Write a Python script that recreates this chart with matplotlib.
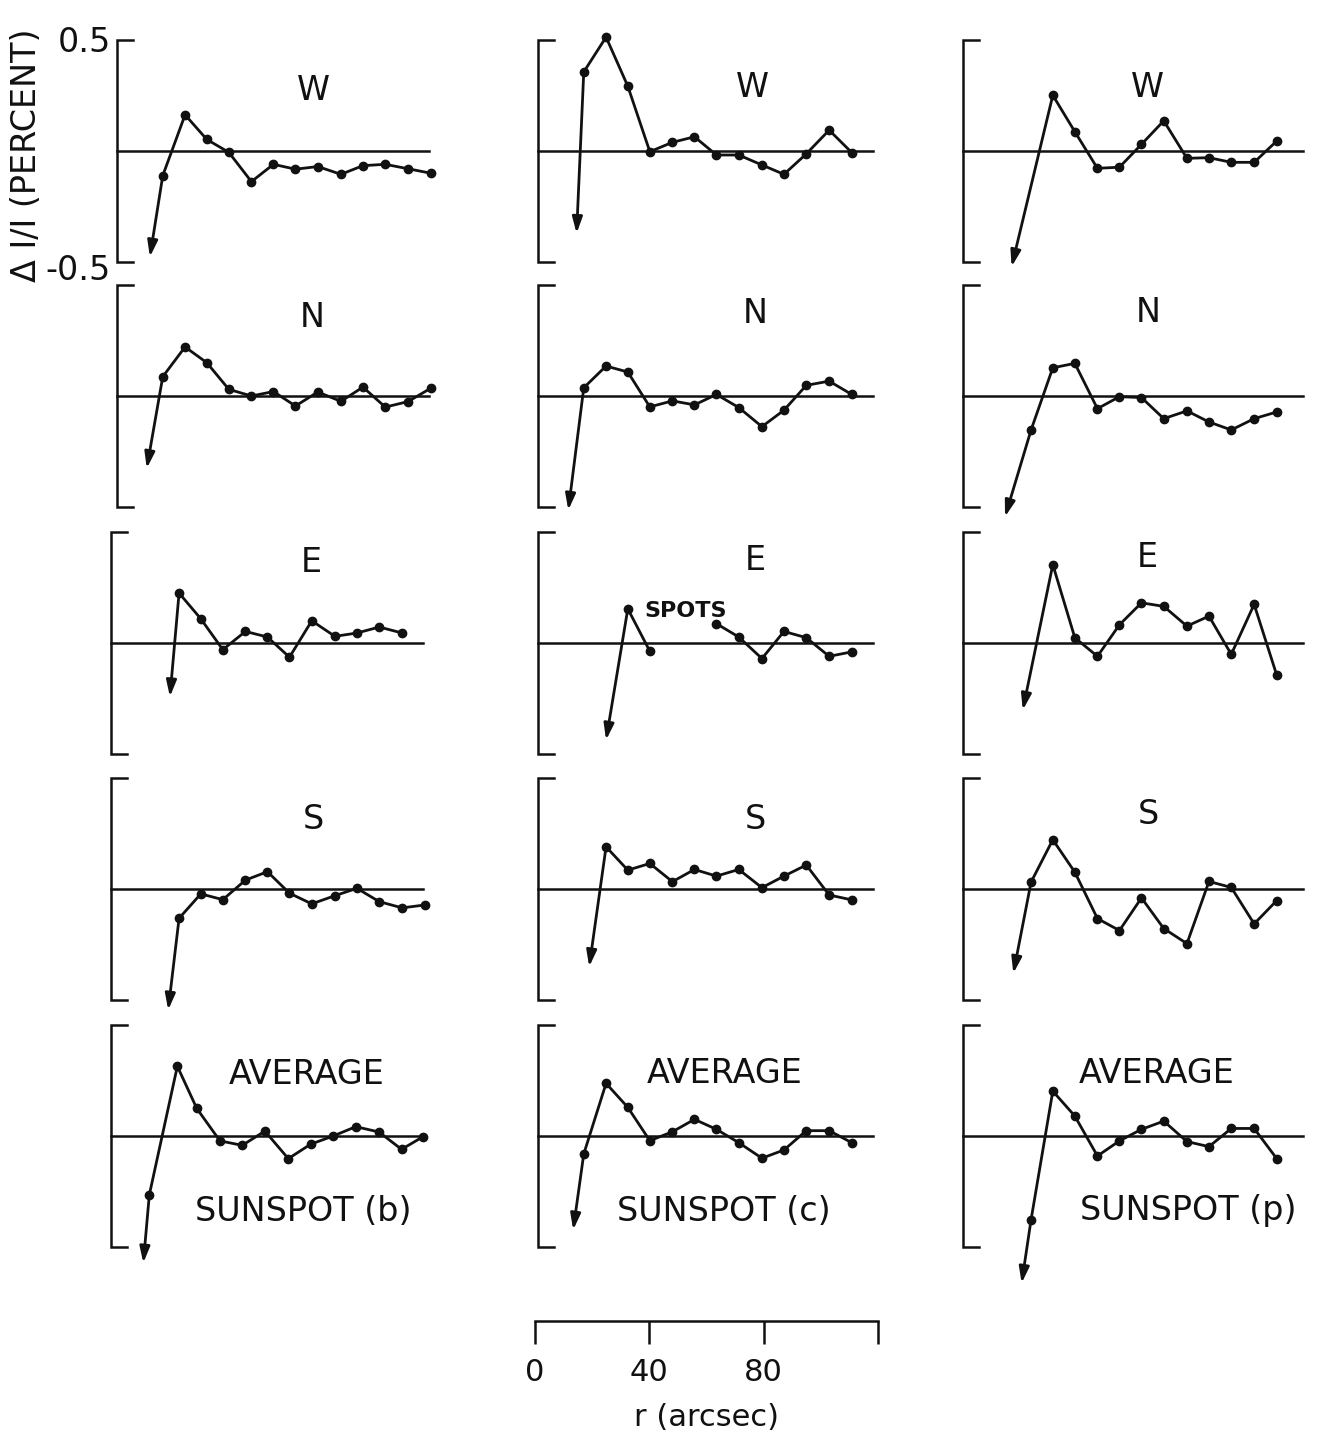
import numpy as np
import matplotlib
matplotlib.use("Agg")
import matplotlib.pyplot as plt

nan = np.nan

# ---------------- data (r in arcsec, dI/I in percent) ----------------
X_GRID = [16.0, 23.8, 31.4, 39.1, 47.0, 54.7, 62.4, 70.2, 78.3, 86.0, 93.8, 101.8, 109.7]
X_AVG_B = [13.4, 23.2, 30.0, 38.1, 45.9, 53.8, 62.0, 69.8, 77.7, 85.6, 93.7, 101.6, 109.0]

SUNSPOTS = ["b", "c", "p"]
PANEL_LABELS = ["W", "N", "E", "S", "AVERAGE"]

# sunspot (b)
W_B = [-0.111, 0.163, 0.052, -0.006, -0.138, -0.060, -0.082, -0.070, -0.105, -0.066, -0.060, -0.080, -0.100]
N_B = [0.087, 0.221, 0.150, 0.030, 0.000, 0.020, -0.045, 0.018, -0.024, 0.040, -0.050, -0.025, 0.035]
E_B = [nan, 0.225, 0.109, -0.030, 0.052, 0.027, -0.064, 0.100, 0.030, 0.045, 0.072, 0.045, nan]
S_B = [nan, -0.132, -0.022, -0.048, 0.040, 0.078, -0.019, -0.067, -0.030, 0.003, -0.057, -0.085, -0.072]
AVG_B = [-0.265, 0.314, 0.124, -0.022, -0.042, 0.022, -0.102, -0.037, 0.000, 0.042, 0.018, -0.060, -0.004]
ARROW_B_X = [11.5, 10.4, 20.6, 20.0, 11.3]
ARROW_B_Y = [-0.477, -0.326, -0.242, -0.545, -0.572]

# sunspot (c)
W_C = [0.356, 0.513, 0.292, -0.003, 0.039, 0.064, -0.018, -0.018, -0.063, -0.105, -0.013, 0.094, -0.007]
N_C = [0.037, 0.135, 0.108, -0.049, -0.022, -0.040, 0.007, -0.052, -0.138, -0.064, 0.048, 0.067, 0.007]
E_C = [nan, nan, 0.154, -0.037, nan, nan, 0.087, 0.027, -0.070, 0.052, 0.024, -0.060, -0.040]
S_C = [nan, 0.190, 0.085, 0.115, 0.033, 0.088, 0.058, 0.088, 0.006, 0.058, 0.108, -0.027, -0.049]
AVG_C = [-0.081, 0.237, 0.129, -0.021, 0.019, 0.075, 0.030, -0.030, -0.100, -0.063, 0.024, 0.024, -0.030]
ARROW_C_X = [13.5, 10.6, 23.8, 17.9, 12.3]
ARROW_C_Y = [-0.371, -0.514, -0.437, -0.350, -0.423]

# sunspot (p)
W_P = [nan, nan, 0.251, 0.087, -0.078, -0.073, 0.030, 0.136, -0.033, -0.030, -0.051, -0.051, 0.045]
N_P = [nan, -0.153, 0.127, 0.147, -0.057, -0.003, -0.007, -0.102, -0.067, -0.117, -0.153, -0.102, -0.072]
E_P = [nan, nan, 0.353, 0.024, -0.060, 0.082, 0.181, 0.165, 0.076, 0.121, -0.051, 0.174, -0.145]
S_P = [nan, 0.031, 0.222, 0.076, -0.133, -0.187, -0.040, -0.178, -0.246, 0.034, 0.007, -0.157, -0.052]
AVG_P = [nan, -0.377, 0.202, 0.090, -0.090, -0.022, 0.030, 0.067, -0.025, -0.048, 0.034, 0.034, -0.102]
ARROW_P_X = [17.0, 14.7, 20.9, 17.6, 20.5]
ARROW_P_Y = [-0.521, -0.544, -0.302, -0.380, -0.663]

SERIES = [
    [W_B, N_B, E_B, S_B, AVG_B],
    [W_C, N_C, E_C, S_C, AVG_C],
    [W_P, N_P, E_P, S_P, AVG_P],
]
XS = [
    [X_GRID, X_GRID, X_GRID, X_GRID, X_AVG_B],
    [X_GRID] * 5,
    [X_GRID] * 5,
]
ARROWS_X = [ARROW_B_X, ARROW_C_X, ARROW_P_X]
ARROWS_Y = [ARROW_B_Y, ARROW_C_Y, ARROW_P_Y]

SCALE_TICKS = [0, 40, 80, 120]
SCALE_TICK_LABELS = ["0", "40", "80", ""]

# ---------------- layout (pixels) ----------------
FIG_W, FIG_H = 1328, 1446
COL_LEFT_PX = [[117, 117, 111, 111, 111], [538] * 5, [963] * 5]
ROW_ZERO_PX = [151, 396, 643, 889, 1136]
HALF_PX = 111
PX_PER_ARCSEC = 2.86
XMAX = 120
ZERO_END = [109, 117, 119]
BRACKET_TICK = 5.5
INK = "#111111"

# label centers x and baseline y in pixels
LABEL_POS = [
    [(313, 100), (312, 327), (311, 572), (313, 829), (307, 1084)],
    [(752, 97), (755, 323), (755, 570), (755, 829), (725, 1083)],
    [(1147, 97), (1148, 322), (1147, 567), (1148, 824), (1157, 1083)],
]
SUNSPOT_POS = [(303, 1221), (724, 1221), (1188, 1220)]

fig = plt.figure(figsize=(FIG_W / 100, FIG_H / 100), dpi=100)
fig.patch.set_facecolor("white")


def fx(px):
    return px / FIG_W


def fy(py):
    return 1 - py / FIG_H


for c in range(3):
    for r in range(5):
        left = COL_LEFT_PX[c][r]
        zero = ROW_ZERO_PX[r]
        ax = fig.add_axes([fx(left), fy(zero + HALF_PX),
                           XMAX * PX_PER_ARCSEC / FIG_W, 2 * HALF_PX / FIG_H])
        ax.set_xlim(0, XMAX)
        ax.set_ylim(-0.5, 0.5)
        ax.axis("off")
        # bracket axis
        ax.plot([BRACKET_TICK, 0, 0, BRACKET_TICK], [0.5, 0.5, -0.5, -0.5],
                color=INK, lw=1.8, clip_on=False, solid_joinstyle="miter")
        # zero line
        ax.plot([0, ZERO_END[c]], [0, 0], color=INK, lw=1.8, clip_on=False)
        x = np.array(XS[c][r], dtype=float)
        y = np.array(SERIES[c][r], dtype=float)
        ax.plot(x, y, "-o", color=INK, lw=2.0, ms=6, clip_on=False)
        i0 = int(np.where(~np.isnan(y))[0][0])
        ax.annotate("", xy=(ARROWS_X[c][r], ARROWS_Y[c][r]), xytext=(x[i0], y[i0]),
                    arrowprops=dict(arrowstyle="-|>,head_length=0.8,head_width=0.25",
                                    color=INK, lw=2.0, mutation_scale=12,
                                    shrinkA=0, shrinkB=0),
                    annotation_clip=False)
        lx, ly = LABEL_POS[c][r]
        fig.text(fx(lx), fy(ly), PANEL_LABELS[r], ha="center", va="baseline",
                 fontsize=24, color=INK)
    sx, sy = SUNSPOT_POS[c]
    fig.text(fx(sx), fy(sy), f"SUNSPOT ({SUNSPOTS[c]})", ha="center", va="baseline",
             fontsize=24, color=INK)

# SPOTS annotation in (c) E panel
fig.text(fx(686), fy(617), "SPOTS", ha="center", va="baseline", fontsize=16,
         fontweight="bold", color=INK)

# y-scale labels on first panel
fig.text(fx(111), fy(52), "0.5", ha="right", va="baseline", fontsize=24, color=INK)
fig.text(fx(111), fy(280), "-0.5", ha="right", va="baseline", fontsize=24, color=INK)
fig.text(fx(27), fy(155), "Δ I/I (PERCENT)", rotation=90, ha="center", va="center",
         fontsize=24, color=INK)

# r scale bar
sax = fig.add_axes([fx(535), fy(1321), XMAX * PX_PER_ARCSEC / FIG_W, 0.001])
sax.set_xlim(0, XMAX)
for s in ["left", "right", "top"]:
    sax.spines[s].set_visible(False)
sax.spines["bottom"].set_linewidth(1.8)
sax.spines["bottom"].set_color(INK)
sax.set_yticks([])
sax.set_xticks(SCALE_TICKS)
sax.set_xticklabels(SCALE_TICK_LABELS, fontsize=22, color=INK)
sax.tick_params(axis="x", direction="out", length=16.5, width=1.8, color=INK, pad=10)
sax.set_xlabel("r (arcsec)", fontsize=22, color=INK, labelpad=12)
sax.patch.set_alpha(0)

fig.savefig("out.png", dpi=100, facecolor="white")
